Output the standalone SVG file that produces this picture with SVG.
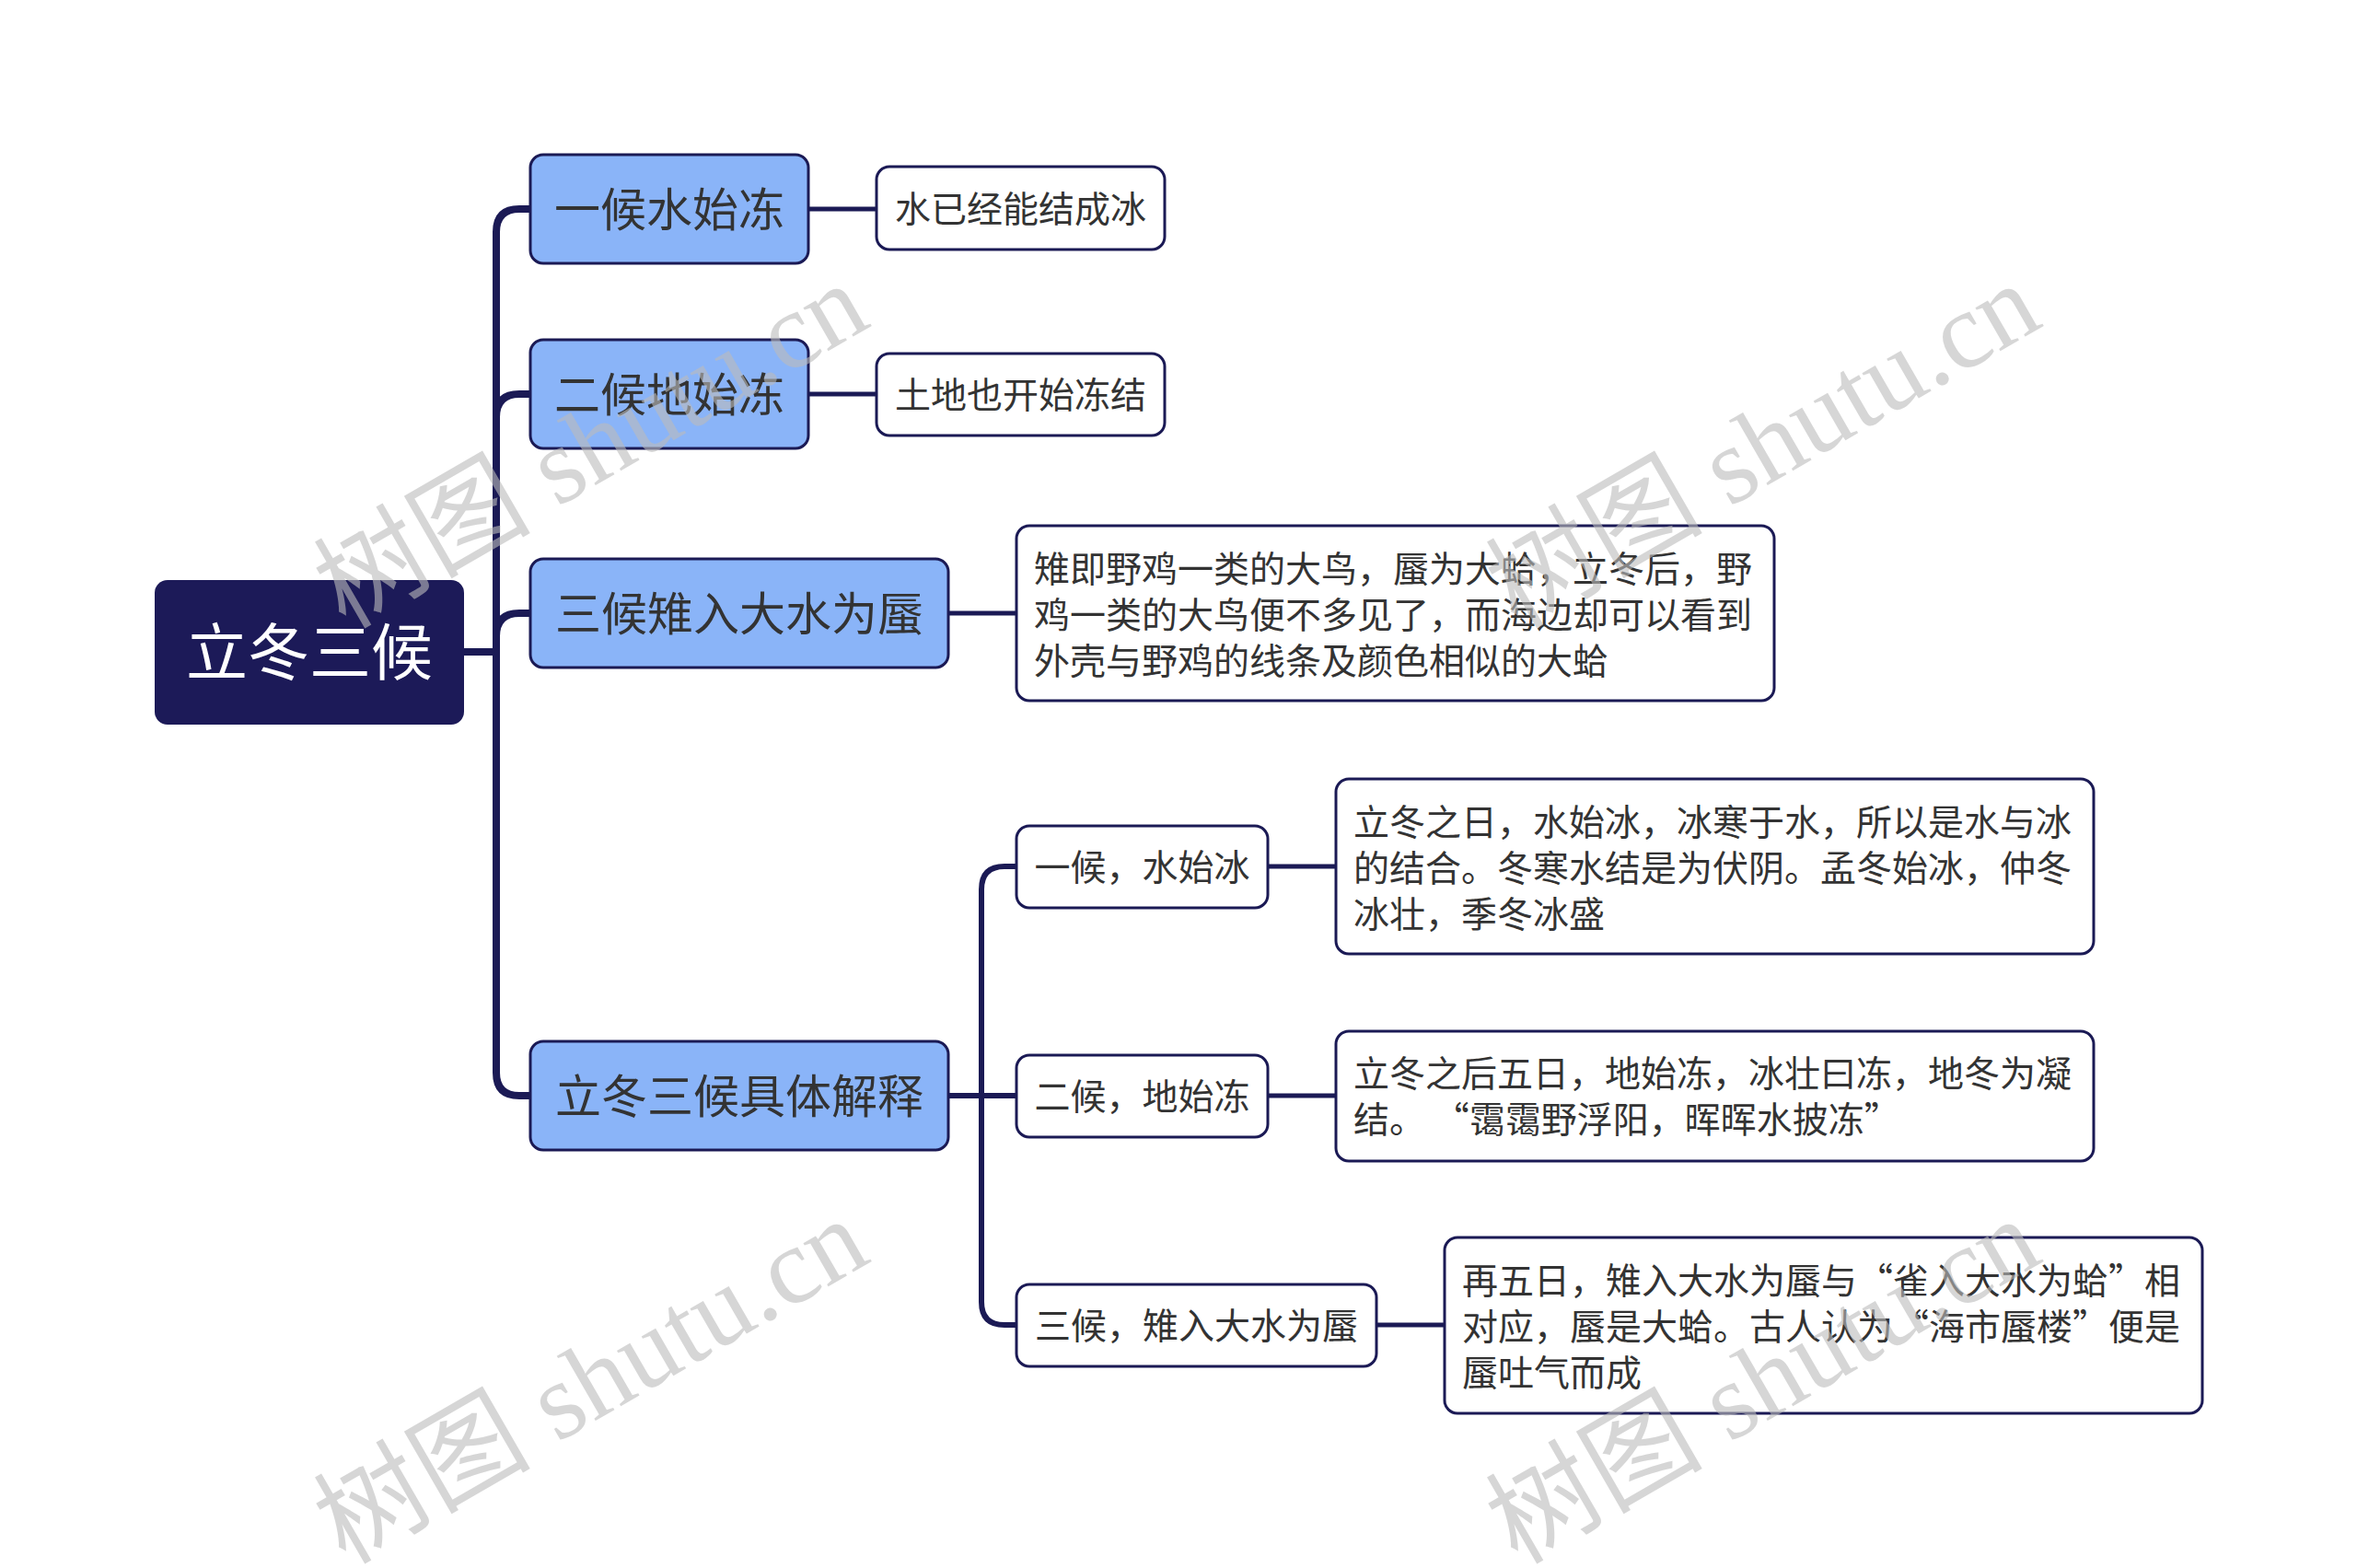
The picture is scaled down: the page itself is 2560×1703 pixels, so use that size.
<svg xmlns="http://www.w3.org/2000/svg" width="2560" height="1703" viewBox="0 0 2560 1703">
<style>
text{font-family:"Noto Sans CJK SC","Noto Sans",sans-serif;}
.root rect{fill:#1c1a58;}
.root text{fill:#ffffff;font-size:67px;text-anchor:middle;}
.l1 rect{fill:#8ab4f8;stroke:#1b1a55;stroke-width:3;}
.l1 text{fill:#333333;font-size:50px;text-anchor:middle;}
.leaf rect{fill:#ffffff;stroke:#1b1a55;stroke-width:3;}
.leaf text{fill:#333333;font-size:39px;}
.leaf text.c{text-anchor:middle;}
.conn path{fill:none;stroke:#1b1a55;stroke-linecap:butt;}
.w8{stroke-width:8;}
.w6{stroke-width:6;}
.w5{stroke-width:5;}
.wm text{font-family:"Liberation Serif","Noto Sans CJK SC",serif;font-size:118px;fill:#bcbcbc;opacity:0.6;}
</style>
<rect x="0" y="0" width="2560" height="1703" fill="#ffffff"/>
<g id="connectors" class="conn">
<path class="w8" d="M504 708 H539"/>
<path class="w8" d="M576 227 H564 Q539 227 539 252 V1165 Q539 1190 564 1190 H576"/>
<path class="w8" d="M539 453 Q539 428 564 428 H576"/>
<path class="w8" d="M539 691 Q539 666 564 666 H576"/>
<path class="w5" d="M878 227 H952"/>
<path class="w5" d="M878 428 H952"/>
<path class="w5" d="M1030 666 H1104"/>
<path class="w6" d="M1030 1190 H1104"/>
<path class="w6" d="M1104 941 H1091 Q1066 941 1066 966 V1414 Q1066 1439 1091 1439 H1104"/>
<path class="w5" d="M1377 941 H1451"/>
<path class="w5" d="M1377 1190 H1451"/>
<path class="w5" d="M1495 1439 H1569"/>
</g>
<g id="root" class="root">
<rect x="168" y="630" width="336" height="157" rx="14"/>
<text x="336" y="733">立冬三候</text>
</g>
<g id="n1" class="l1">
<rect x="576" y="168" width="302" height="118" rx="14"/>
<text x="727" y="245.5">一候水始冻</text>
</g>
<g id="n2" class="l1">
<rect x="576" y="369" width="302" height="118" rx="14"/>
<text x="727" y="446.5">二候地始冻</text>
</g>
<g id="n3" class="l1">
<rect x="576" y="607" width="454" height="118" rx="14"/>
<text x="803" y="684.5">三候雉入大水为蜃</text>
</g>
<g id="n4" class="l1">
<rect x="576" y="1131" width="454" height="118" rx="14"/>
<text x="803" y="1208.5">立冬三候具体解释</text>
</g>
<g id="leaf1" class="leaf">
<rect x="952" y="181" width="313" height="90" rx="14"/>
<text class="c" x="1108.5" y="241">水已经能结成冰</text>
</g>
<g id="leaf2" class="leaf">
<rect x="952" y="384" width="313" height="89" rx="14"/>
<text class="c" x="1108.5" y="443">土地也开始冻结</text>
</g>
<g id="leaf3" class="leaf">
<rect x="1104" y="571" width="823" height="190" rx="14"/>
<text x="1123" y="632">雉即野鸡一类的大鸟，蜃为大蛤，立冬后，野</text>
<text x="1123" y="682">鸡一类的大鸟便不多见了，而海边却可以看到</text>
<text x="1123" y="732">外壳与野鸡的线条及颜色相似的大蛤</text>
</g>
<g id="m1" class="leaf">
<rect x="1104" y="897" width="273" height="89" rx="14"/>
<text class="c" x="1240.5" y="956">一候，水始冰</text>
</g>
<g id="m2" class="leaf">
<rect x="1104" y="1146" width="273" height="89" rx="14"/>
<text class="c" x="1240.5" y="1205">二候，地始冻</text>
</g>
<g id="m3" class="leaf">
<rect x="1104" y="1395" width="391" height="89" rx="14"/>
<text class="c" x="1299.5" y="1454">三候，雉入大水为蜃</text>
</g>
<g id="d1" class="leaf">
<rect x="1451" y="846" width="823" height="190" rx="14"/>
<text x="1470" y="907">立冬之日，水始冰，冰寒于水，所以是水与冰</text>
<text x="1470" y="957">的结合。冬寒水结是为伏阴。孟冬始冰，仲冬</text>
<text x="1470" y="1007">冰壮，季冬冰盛</text>
</g>
<g id="d2" class="leaf">
<rect x="1451" y="1120" width="823" height="141" rx="14"/>
<text x="1470" y="1180">立冬之后五日，地始冻，冰壮曰冻，地冬为凝</text>
<text x="1470" y="1230">结。 “霭霭野浮阳，晖晖水披冻”</text>
</g>
<g id="d3" class="leaf">
<rect x="1569" y="1344" width="823" height="191" rx="14"/>
<text x="1588" y="1405">再五日，雉入大水为蜃与“雀入大水为蛤”相</text>
<text x="1588" y="1455">对应，蜃是大蛤。古人认为“海市蜃楼”便是</text>
<text x="1588" y="1505">蜃吐气而成</text>
</g>
<g id="watermarks" class="wm">
<text transform="translate(375 684) rotate(-30)">树图 shutu.cn</text>
<text transform="translate(1648 684) rotate(-30)">树图 shutu.cn</text>
<text transform="translate(375 1700) rotate(-30)">树图 shutu.cn</text>
<text transform="translate(1648 1700) rotate(-30)">树图 shutu.cn</text>
</g>
</svg>
